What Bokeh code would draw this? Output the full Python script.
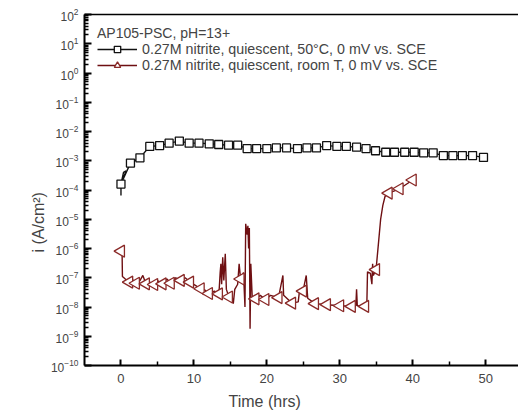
import math
from bokeh.plotting import figure
from bokeh.models import (FixedTicker, LogTickFormatter, LinearAxis, Legend, LegendItem,
                          Range1d, Title)
from bokeh.embed import file_html
from bokeh.resources import INLINE

# ---------------- data ----------------
legend_title = "AP105-PSC, pH=13+"
label_50C = "0.27M nitrite, quiescent, 50°C, 0 mV vs. SCE"
label_room = "0.27M nitrite, quiescent, room T, 0 mV vs. SCE"
x_title = "Time (hrs)"
y_title = "i (A/cm²)"

# 50 °C series (square markers)
sq_t = [0, 1.3, 2.6, 3.95, 5.3, 6.6, 8.0, 9.35, 10.7, 12.1, 13.4, 14.75, 16.0, 17.3,
        18.6, 20.0, 21.3, 22.7, 24.2, 25.5, 26.8, 28.2, 29.6, 30.9, 32.3, 33.6, 34.9,
        36.3, 37.5, 38.9, 40.2, 41.5, 42.8, 44.2, 45.5, 46.8, 48.2, 49.7]
sq_i = [1.6e-4, 8.3e-4, 1.26e-3, 3.1e-3, 3.3e-3, 4.0e-3, 4.7e-3, 4.0e-3, 4.0e-3, 3.8e-3,
        3.6e-3, 3.4e-3, 3.4e-3, 2.6e-3, 2.6e-3, 2.6e-3, 2.75e-3, 2.75e-3, 2.6e-3, 2.75e-3,
        2.75e-3, 3.3e-3, 3.1e-3, 3.1e-3, 2.9e-3, 2.6e-3, 2.2e-3, 1.95e-3, 1.95e-3, 1.95e-3,
        1.95e-3, 1.86e-3, 1.86e-3, 1.5e-3, 1.5e-3, 1.5e-3, 1.5e-3, 1.3e-3]
# early trace of the 50 °C line before the markers
sq_start_t = [0.0, 0.0, 0.35, 0.7]
sq_start_i = [6.5e-5, 1.6e-4, 4.0e-4, 4.5e-4]

# room-T series: full trace
rt_t = [0.0, 0.15, 0.2, 0.6, 1.13, 1.5, 2.05, 2.6, 3.0, 3.42, 4.0, 4.55, 5.0, 5.7, 6.3,
        6.83, 7.5, 8.2, 8.8, 9.47, 10.2, 10.93, 11.5, 12.06, 12.8, 13.43, 13.6, 13.7,
        13.8, 13.95, 14.1, 14.3, 14.45, 14.8, 15.2, 15.4, 15.6, 16.0, 16.2, 16.4, 16.8,
        17.0, 17.1, 17.3, 17.4, 17.5, 17.6, 17.7, 17.8, 18.0, 18.44, 19.1, 19.8, 20.5,
        21.6, 22.2, 22.3, 23.46, 24.3, 24.5, 24.96, 25.4, 25.6, 26.6, 28.24, 30.05,
        31.65, 32.2, 32.3, 32.4, 33.47, 33.7, 33.8, 34.2, 34.4, 34.5, 34.6, 34.97,
        35.3, 35.6, 35.9, 36.2, 36.7, 38.2, 40.0]
rt_i = [8.1e-7, 8.0e-7, 1.1e-7, 9e-8, 7.1e-8, 9e-8, 6.5e-8, 8e-8, 1.2e-7, 6.2e-8, 7e-8,
        5.9e-8, 8e-8, 6.2e-8, 9e-8, 6.5e-8, 1.0e-7, 8.1e-8, 1.0e-7, 7.1e-8, 5.5e-8,
        4.2e-8, 3.8e-8, 2.9e-8, 3.5e-8, 2.8e-8, 1.5e-7, 3e-7, 6e-8, 5e-7, 8e-8, 6.6e-7,
        4e-8, 2.2e-8, 2.5e-8, 1.3e-8, 4e-8, 6e-8, 3e-7, 9.1e-8, 1.5e-7, 1e-8, 7e-6,
        3e-6, 6e-6, 1e-6, 5e-6, 1.8e-9, 3e-7, 2e-8, 1.9e-8, 2.5e-8, 1.8e-8, 2.5e-8,
        2.1e-8, 1.2e-7, 2.5e-8, 1.35e-8, 1.5e-8, 4e-8, 3.5e-8, 1.2e-7, 2e-8, 1.3e-8,
        1.2e-8, 1.1e-8, 1.05e-8, 1.1e-8, 4e-8, 1.1e-8, 1.05e-8, 1.0e-8, 1.6e-7, 1.4e-7,
        6e-8, 3e-7, 1.2e-7, 1.9e-7, 1.5e-6, 1e-5, 3e-5, 6e-5, 7.8e-5, 1.1e-4, 2.2e-4]
# room-T series: marker positions
tri_t = [0.0, 1.13, 2.05, 3.42, 4.55, 5.7, 6.83, 8.2, 9.47, 10.93, 12.06, 13.43, 14.8,
         16.4, 18.44, 19.8, 21.6, 23.46, 24.96, 26.6, 28.24, 30.05, 31.65, 33.47, 34.97,
         36.7, 38.2, 40.0]
tri_i = [8.1e-7, 7.1e-8, 6.5e-8, 6.2e-8, 5.9e-8, 6.2e-8, 6.5e-8, 8.1e-8, 7.1e-8, 4.2e-8,
         2.9e-8, 2.8e-8, 2.2e-8, 9.1e-8, 1.9e-8, 1.8e-8, 2.1e-8, 1.35e-8, 3.5e-8, 1.3e-8,
         1.2e-8, 1.1e-8, 1.05e-8, 1.05e-8, 1.9e-7, 7.8e-5, 1.1e-4, 2.2e-4]

x_ticks = [0, 10, 20, 30, 40, 50]
x_minor = [5, 15, 25, 35, 45]
y_exponents = list(range(-10, 3))

# ---------------- figure ----------------
FONT = "Liberation Sans"
p = figure(width=518, height=418, output_backend="svg", toolbar_location=None,
           y_axis_type="log", x_range=Range1d(-5, 54.5), y_range=Range1d(1e-10, 1e2),
           min_border_left=84, min_border_right=0, min_border_top=14, min_border_bottom=53)
p.background_fill_color = "white"
p.border_fill_color = "white"
p.outline_line_color = None
p.xgrid.visible = False
p.ygrid.visible = False

y_major = [10.0 ** e for e in y_exponents]
y_minor = [m * 10.0 ** e for e in y_exponents[:-1] for m in range(2, 10)]

xa = p.xaxis[0]
xa.ticker = FixedTicker(ticks=x_ticks, minor_ticks=x_minor)
xa.axis_line_width = 2
xa.major_tick_in = 6
xa.major_tick_out = 0
xa.major_tick_line_width = 2
xa.minor_tick_in = 4
xa.minor_tick_out = 0
xa.minor_tick_line_width = 1.5
xa.major_label_text_font = FONT
xa.major_label_text_font_size = "13px"
xa.major_label_standoff = 8

ya = p.yaxis[0]
ya.ticker = FixedTicker(ticks=y_major, minor_ticks=y_minor)
ya.formatter = LogTickFormatter()
ya.axis_line_width = 2
ya.major_tick_in = 7
ya.major_tick_out = 0
ya.major_tick_line_width = 2
ya.minor_tick_in = 4
ya.minor_tick_out = 0
ya.minor_tick_line_width = 1.5
ya.major_label_text_font = FONT
ya.major_label_text_font_size = "12px"
ya.major_label_standoff = 6

top = LinearAxis(ticker=FixedTicker(ticks=[]), axis_line_width=1.5,
                 major_tick_line_color=None, minor_tick_line_color=None,
                 major_label_text_font_size="0px", major_label_standoff=0,
                 major_tick_out=0, major_tick_in=0)
p.add_layout(top, "above")

# axis titles, placed where the original puts them
p.add_layout(Title(text=x_title, align="left", offset=144, standoff=10,
                   text_font=FONT, text_font_size="16px", text_font_style="normal"), "below")
p.add_layout(Title(text=y_title, align="left", offset=113, standoff=2,
                   text_font=FONT, text_font_size="16px", text_font_style="normal"), "left")

BLACK = "#111111"
RED_LINE = "#6e0f12"
RED_MARK = "#8a2a28"

bl = p.line(sq_start_t + sq_t, sq_start_i + sq_i, line_color=BLACK, line_width=1.4)
bm = p.scatter(sq_t, sq_i, marker="square", size=8, line_color=BLACK, line_width=1.3,
               fill_color="white")

rl = p.line(rt_t, rt_i, line_color=RED_LINE, line_width=1.4)
rm = p.scatter(tri_t, tri_i, marker="triangle", angle=math.pi / 2, size=12,
               line_color=RED_MARK, line_width=1.3, fill_color="white")

legend = Legend(items=[LegendItem(label=label_50C, renderers=[bl, bm]),
                       LegendItem(label=label_room, renderers=[rl, rm])],
                location=(13, 292))
legend.title = legend_title
legend.title_text_font = FONT
legend.title_text_font_style = "normal"
legend.title_text_font_size = "14px"
legend.title_standoff = 0
legend.label_text_font = FONT
legend.label_text_font_size = "14.25px"
legend.border_line_color = None
legend.background_fill_alpha = 0
legend.margin = 0
legend.padding = 0
legend.spacing = 0
legend.glyph_width = 40
legend.glyph_height = 16
legend.label_height = 16
legend.label_standoff = 5
p.add_layout(legend)

open("out.html", "w").write(file_html(p, INLINE))
